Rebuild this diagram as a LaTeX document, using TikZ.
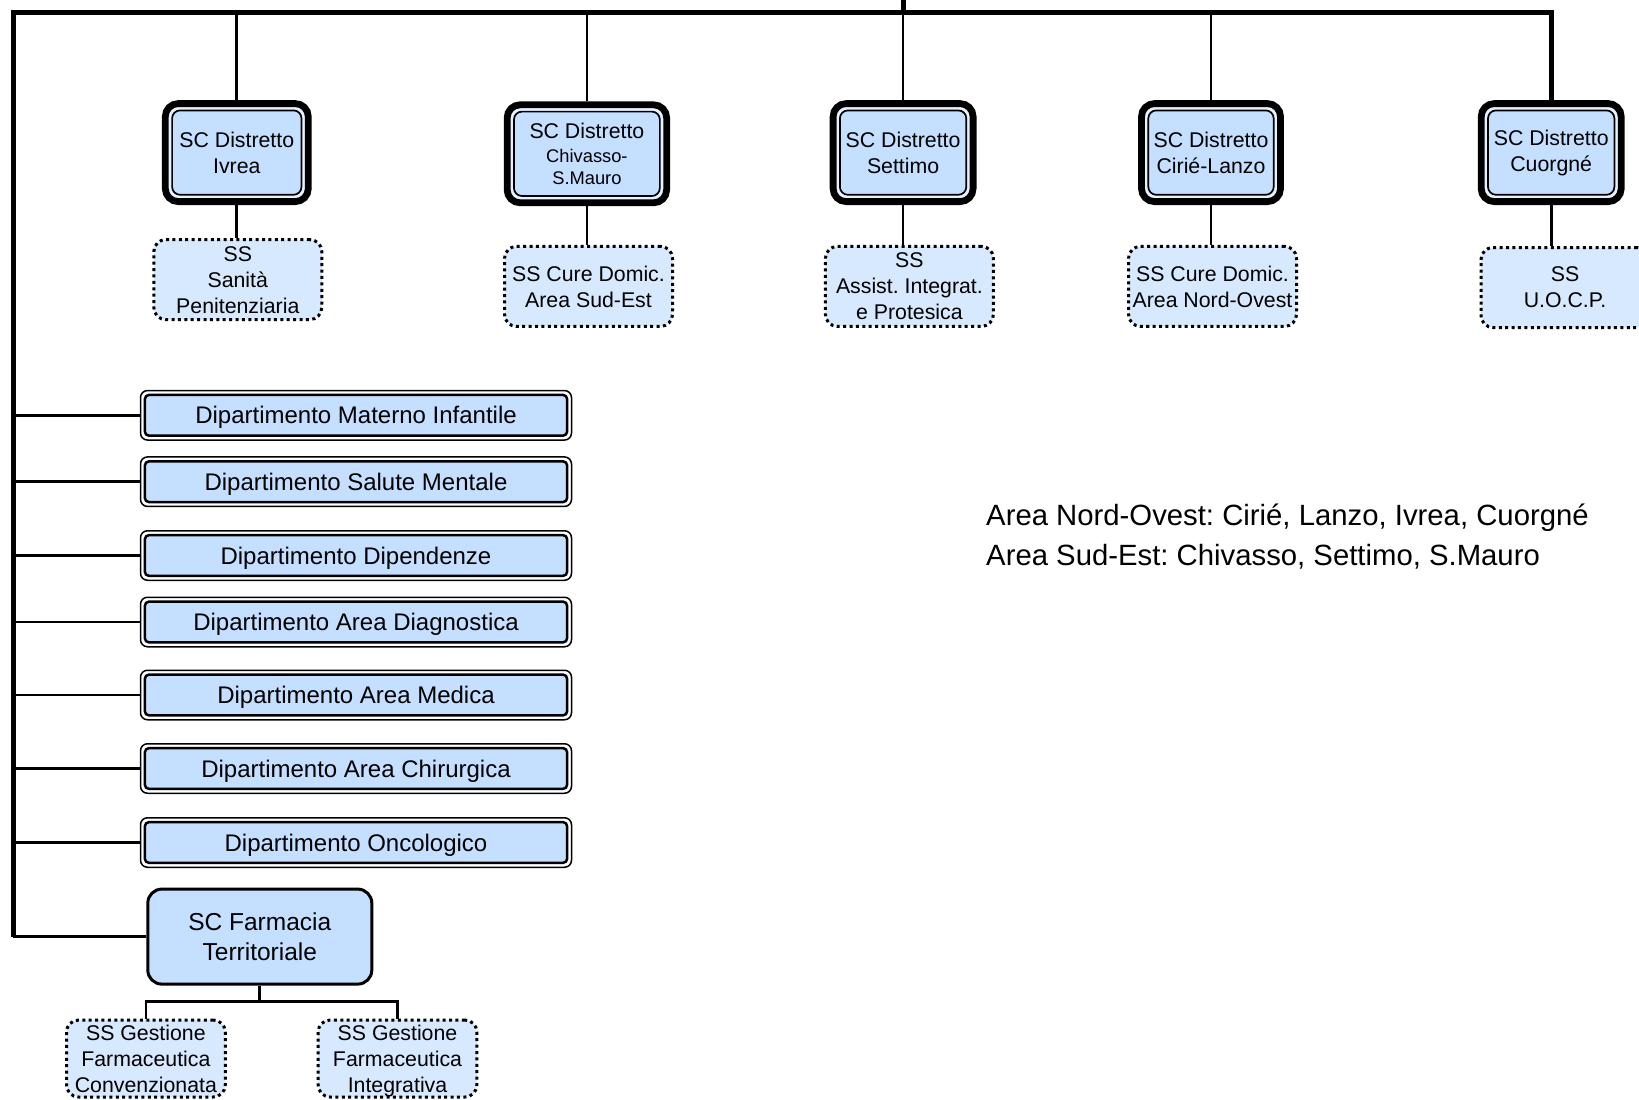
\documentclass[tikz,border=0pt]{standalone}
\usepackage{fontspec}
\setmainfont{Liberation Sans}
\definecolor{cmain}{RGB}{196,223,255}
\definecolor{cgap}{RGB}{232,242,255}
\definecolor{css}{RGB}{215,233,255}
\begin{document}
\frenchspacing
\begin{tikzpicture}[x=1pt,y=-1pt,
  distbox/.style={draw=black, line width=6.8pt, rounded corners=13pt, fill=cgap,
    inner sep=0pt, align=center, minimum height=98pt,
    font=\fontsize{21.3}{26}\selectfont,
    path picture={\draw[line width=1.7pt, fill=cmain, rounded corners=8pt, solid]
      ([xshift=6.8pt,yshift=6.8pt]path picture bounding box.south west) rectangle
      ([xshift=-6.8pt,yshift=-6.8pt]path picture bounding box.north east);}},
  ssbox/.style={draw=black, line width=3pt, dash pattern=on 3pt off 3.4pt,
    rounded corners=12pt, fill=css, inner sep=0pt, align=center,
    minimum width=168pt, minimum height=80pt, text depth=0pt,
    font=\fontsize{21.3}{26}\selectfont},
  deptbox/.style={draw=black, line width=1.5pt, rounded corners=7pt, fill=white,
    inner sep=0pt, minimum width=431pt, minimum height=49.5pt,
    text height=17.3pt, text depth=0pt,
    font=\fontsize{24}{29}\selectfont,
    path picture={\draw[line width=2.5pt, fill=cmain, rounded corners=4pt]
      ([xshift=4.4pt,yshift=4.4pt]path picture bounding box.south west) rectangle
      ([xshift=-4.4pt,yshift=-4.4pt]path picture bounding box.north east);}},
  farmbox/.style={draw=black, line width=3pt, rounded corners=14pt, fill=cmain,
    inner sep=0pt, align=center, minimum width=224pt, minimum height=95pt,
    font=\fontsize{24.5}{29.3}\selectfont},
  legendtxt/.style={inner sep=0pt, font=\fontsize{29.3}{40}\selectfont},
  conn/.style={draw=black, line width=2.7pt},
  bus/.style={draw=black, line width=5pt},
]
\useasboundingbox (0,0) rectangle (1639,1100);

% top-left bus corner and parent line
\coordinate (tl) at (13,12);
\coordinate (par) at (903,0);

% Distretti
\node[distbox, minimum width=143pt] (ivrea) at (236.8,152.6) {SC Distretto\\Ivrea};
\node[distbox, minimum width=159.5pt] (chivasso) at (586.9,153.8)
  {SC Distretto\\[-1.5pt]{\fontsize{18.3}{22}\selectfont Chivasso-}\\[-4pt]{\fontsize{18.3}{22}\selectfont S.Mauro}};
\node[distbox, minimum width=140pt] (settimo) at (903.1,152.6) {SC Distretto\\Settimo};
\node[distbox, minimum width=139pt] (cirie) at (1211,152.6) {SC Distretto\\Cirié-Lanzo};
\node[distbox, minimum width=140pt] (cuorgne) at (1551.2,152.6) {SC Distretto\\Cuorgné};

% SS under distretti
\node[ssbox] (sanita) at (237.8,279.6) {SS\\Sanità\\Penitenziaria};
\node[ssbox] (cdse) at (588.5,286.4) {SS Cure Domic.\\Area Sud-Est};
\node[ssbox] (assist) at (909.4,286.4) {SS\\Assist. Integrat.\\e Protesica};
\node[ssbox] (cdno) at (1212.5,286.4) {SS Cure Domic.\\Area Nord-Ovest};
\node[ssbox] (uocp) at (1565,287.5) {SS\\U.O.C.P.};

% Dipartimenti
\node[deptbox] (d1) at (356,415.3) {Dipartimento Materno Infantile};
\node[deptbox] (d2) at (356,481.7) {Dipartimento Salute Mentale};
\node[deptbox] (d3) at (356,555.5) {Dipartimento Dipendenze};
\node[deptbox] (d4) at (356,622) {Dipartimento Area Diagnostica};
\node[deptbox] (d5) at (356,695) {Dipartimento Area Medica};
\node[deptbox] (d6) at (356,768.5) {Dipartimento Area Chirurgica};
\node[deptbox] (d7) at (356,842.5) {Dipartimento Oncologico};

% Farmacia
\node[farmbox] (farm) at (259.8,936.6) {SC Farmacia\\Territoriale};
\node[ssbox, minimum width=158.7pt, minimum height=77pt] (ssg1) at (145.9,1058.5)
  {SS Gestione\\Farmaceutica\\Convenzionata};
\node[ssbox, minimum width=158.7pt, minimum height=77pt] (ssg2) at (397.5,1058.5)
  {SS Gestione\\Farmaceutica\\Integrativa};
\coordinate (fmid) at (259.8,1001.5);

% Legend
\node[legendtxt, anchor=base west] (leg1) at (986,525.5) {Area Nord-Ovest: Cirié, Lanzo, Ivrea, Cuorgné};
\node[legendtxt, anchor=base west] (leg2) at (986,565.5) {Area Sud-Est: Chivasso, Settimo, S.Mauro};

% Connectors
\draw[bus] (par) -- (par |- tl);
\draw[bus] (tl |- farm.west) -- (tl) -| (cuorgne.north);
\draw[conn] (farm.west) -- (tl |- farm.west);
\foreach \n in {ivrea,chivasso,settimo,cirie}
  \draw[conn] (\n.north) -- (\n.north |- tl);
\draw[conn] (ivrea.south) -- (ivrea.south |- sanita.north);
\draw[conn] (chivasso.south) -- (chivasso.south |- cdse.north);
\draw[conn] (settimo.south) -- (settimo.south |- assist.north);
\draw[conn] (cirie.south) -- (cirie.south |- cdno.north);
\draw[conn] (cuorgne.south) -- (cuorgne.south |- uocp.north);
\foreach \n in {d1,d2,d3,d4,d5,d6,d7}
  \draw[conn] (\n.west) -- (\n.west -| tl);
\draw[conn] (farm.south) -- (fmid);
\draw[conn] (ssg1.north) |- (fmid) -| (ssg2.north);
\end{tikzpicture}
\end{document}
